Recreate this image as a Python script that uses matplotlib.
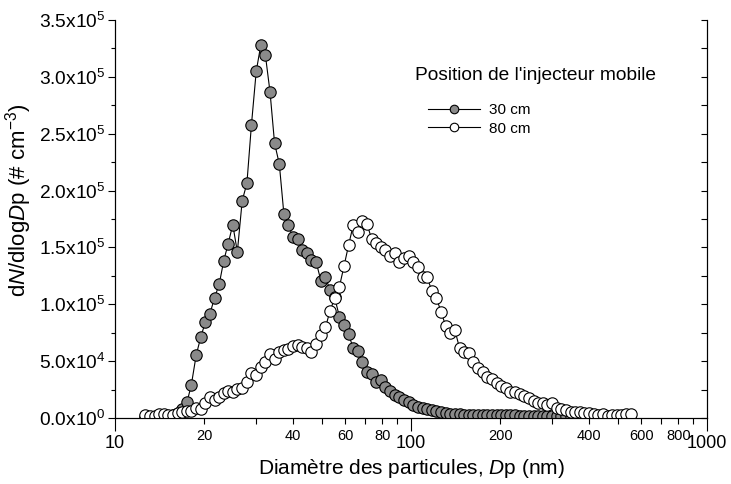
import matplotlib
matplotlib.use('Agg')
import matplotlib.pyplot as plt
from matplotlib.ticker import FixedLocator, FixedFormatter, MultipleLocator, NullFormatter

plt.rcParams['font.family'] = ['Liberation Sans', 'DejaVu Sans']
plt.rcParams['mathtext.fontset'] = 'custom'
plt.rcParams['mathtext.rm'] = 'Liberation Sans'
plt.rcParams['mathtext.it'] = 'Liberation Sans:italic'
plt.rcParams['mathtext.sf'] = 'Liberation Sans'

# SMPS channel diameters (nm)
diameters = [12.6, 13.1, 13.6, 14.1, 14.6, 15.1, 15.7, 16.3, 16.8, 17.5,
             18.1, 18.8, 19.5, 20.2, 20.9, 21.7, 22.5, 23.3, 24.1, 25.0,
             25.9, 26.9, 27.9, 28.9, 30.0, 31.1, 32.2, 33.4, 34.6, 35.9,
             37.2, 38.5, 40.0, 41.4, 42.9, 44.5, 46.1, 47.8, 49.6, 51.4,
             53.3, 55.2, 57.3, 59.4, 61.5, 63.8, 66.1, 68.5, 71.0, 73.7,
             76.4, 79.1, 82.0, 85.1, 88.2, 91.4, 94.7, 98.2, 101.8, 105.5,
             109.4, 113.4, 117.6, 121.9, 126.3, 131.0, 135.8, 140.7, 145.9, 151.2,
             156.8, 162.5, 168.5, 174.7, 181.1, 187.7, 194.6, 201.7, 209.1, 216.7,
             224.7, 232.9, 241.4, 250.3, 259.5, 269.0, 278.8, 289.0, 299.6, 310.6,
             322.0, 333.8, 346.0, 358.7, 371.8, 385.4, 399.5, 414.2, 429.4, 445.1,
             461.4, 478.3, 495.8, 514.0, 532.8, 552.3]

# 30 cm series (first 93 channels)
conc_30cm = [500, 800, 1000, 1200, 1500, 2000, 2800, 4000, 7500, 13800,
             28800, 55100, 71500, 84400, 91200, 105800, 117800, 138300, 153000, 170000,
             146000, 191100, 206400, 257700, 304900, 328300, 319500, 286700, 241600, 223400,
             179400, 169300, 158900, 157200, 147700, 145500, 138900, 137200, 120900, 123600,
             112600, 106100, 89100, 82000, 73900, 61300, 59200, 49200, 40500, 38700,
             31900, 33400, 27500, 24000, 20200, 18200, 15800, 14300, 11400, 9900,
             9100, 7900, 7000, 6200, 5300, 4400, 3800, 3500, 3200, 3000,
             2900, 2800, 2700, 2600, 2500, 2500, 2400, 2300, 2300, 2200,
             2200, 2100, 2100, 2000, 2000, 1900, 1900, 1800, 1800, 1700,
             1700, 1600, 1600]

# 80 cm series (all channels)
conc_80cm = [2600, 1800, 1800, 3300, 3300, 2600, 2600, 4100, 5500, 6200,
             6400, 8500, 7700, 12900, 18700, 15800, 18700, 22200, 23700, 23100,
             25200, 26600, 31900, 39300, 37800, 45100, 49500, 56300, 51600, 58300,
             59800, 60400, 63600, 64200, 62200, 61600, 58000, 65500, 73000, 79600,
             94500, 105100, 115500, 133700, 151700, 169700, 163800, 173200, 170600, 157100,
             153900, 150600, 148000, 142500, 144800, 137400, 141000, 142500, 137400, 132500,
             124300, 123700, 111700, 105300, 93500, 80900, 74500, 77400, 61300, 58300,
             56900, 49500, 43700, 40700, 36300, 34000, 31000, 28500, 26000, 23300,
             23000, 21100, 19300, 17900, 15000, 13500, 12900, 11400, 13500, 8500,
             7700, 7000, 5500, 5500, 5200, 4700, 4100, 3300, 2600, 3300,
             1800, 2600, 2600, 2600, 3300, 3300]

series_labels = ['30 cm', '80 cm']
legend_title = "Position de l'injecteur mobile"
x_major_ticks = [10, 100, 1000]
x_minor_ticks = [20, 30, 40, 50, 60, 70, 80, 90, 200, 300, 400, 500, 600, 700, 800, 900]
x_minor_labels = ['20', '', '40', '', '60', '', '80', '', '200', '', '400', '', '600', '', '800', '']
y_ticks = [0, 5e4, 1e5, 1.5e5, 2e5, 2.5e5, 3e5, 3.5e5]
y_labels = [r'0.0x10$^{0}$', r'5.0x10$^{4}$', r'1.0x10$^{5}$', r'1.5x10$^{5}$',
            r'2.0x10$^{5}$', r'2.5x10$^{5}$', r'3.0x10$^{5}$', r'3.5x10$^{5}$']

fig = plt.figure(figsize=(7.31, 4.84), dpi=100)
ax = fig.add_axes([115/731, 1-418/484, (707-115)/731, (418-20)/484])

n30 = len(conc_30cm)
ax.plot(diameters[:n30], conc_30cm, '-o', color='black', lw=0.8,
        marker='o', markersize=8.2, markerfacecolor='#8a8a8a', markeredgecolor='black',
        markeredgewidth=0.8, label=series_labels[0], zorder=3)
ax.plot(diameters, conc_80cm, '-o', color='black', lw=0.8,
        marker='o', markersize=8.2, markerfacecolor='white', markeredgecolor='black',
        markeredgewidth=0.8, label=series_labels[1], zorder=4)

ax.set_xscale('log')
ax.set_xlim(10, 1000)
ax.set_ylim(0, 3.5e5)

ax.xaxis.set_major_locator(FixedLocator(x_major_ticks))
ax.xaxis.set_major_formatter(FixedFormatter([str(v) for v in x_major_ticks]))
ax.xaxis.set_minor_locator(FixedLocator(x_minor_ticks))
ax.xaxis.set_minor_formatter(FixedFormatter(x_minor_labels))
ax.tick_params(axis='x', which='major', direction='out', length=9, width=0.8,
               labelsize=13, pad=3)
ax.tick_params(axis='x', which='minor', direction='out', length=4, width=0.8,
               labelsize=10.5, pad=4)

ax.yaxis.set_major_locator(FixedLocator(y_ticks))
ax.yaxis.set_major_formatter(FixedFormatter(y_labels))
ax.yaxis.set_minor_locator(MultipleLocator(2.5e4))
ax.tick_params(axis='y', which='major', direction='out', length=5, width=0.8,
               labelsize=13.8, pad=2)
ax.tick_params(axis='y', which='minor', direction='out', length=3, width=0.8)

ax.spines['top'].set_visible(False)
for s in ['left', 'bottom', 'right']:
    ax.spines[s].set_linewidth(0.8)

ax2 = ax.twinx()
ax2.set_ylim(0, 3.5e5)
ax2.yaxis.set_major_locator(MultipleLocator(2.5e4))
ax2.yaxis.set_major_formatter(NullFormatter())
ax2.tick_params(axis='y', which='major', direction='in', length=4, width=0.8)
ax2.spines['top'].set_visible(False)
ax2.spines['right'].set_linewidth(0.8)

ax.set_xlabel(r'Diamètre des particules, $\it{D}$p (nm)', fontsize=15, labelpad=4)
fig.text(19/731, 1-200/484, r'd$\it{N}$/dlog$\it{D}$p (# cm$^{-3}$)', fontsize=16,
         rotation=90, ha='center', va='center')

fig.text(415/731, 1-75/484, legend_title, fontsize=13.8, va='center', ha='left')
ax.legend(loc='upper left', bbox_to_anchor=(428/731, 1-103/484),
          bbox_transform=fig.transFigure, frameon=False, fontsize=11,
          handlelength=3.4, handletextpad=0.6, labelspacing=0.3,
          borderpad=0, borderaxespad=0, markerscale=0.75)

fig.savefig('out.png', dpi=100)
